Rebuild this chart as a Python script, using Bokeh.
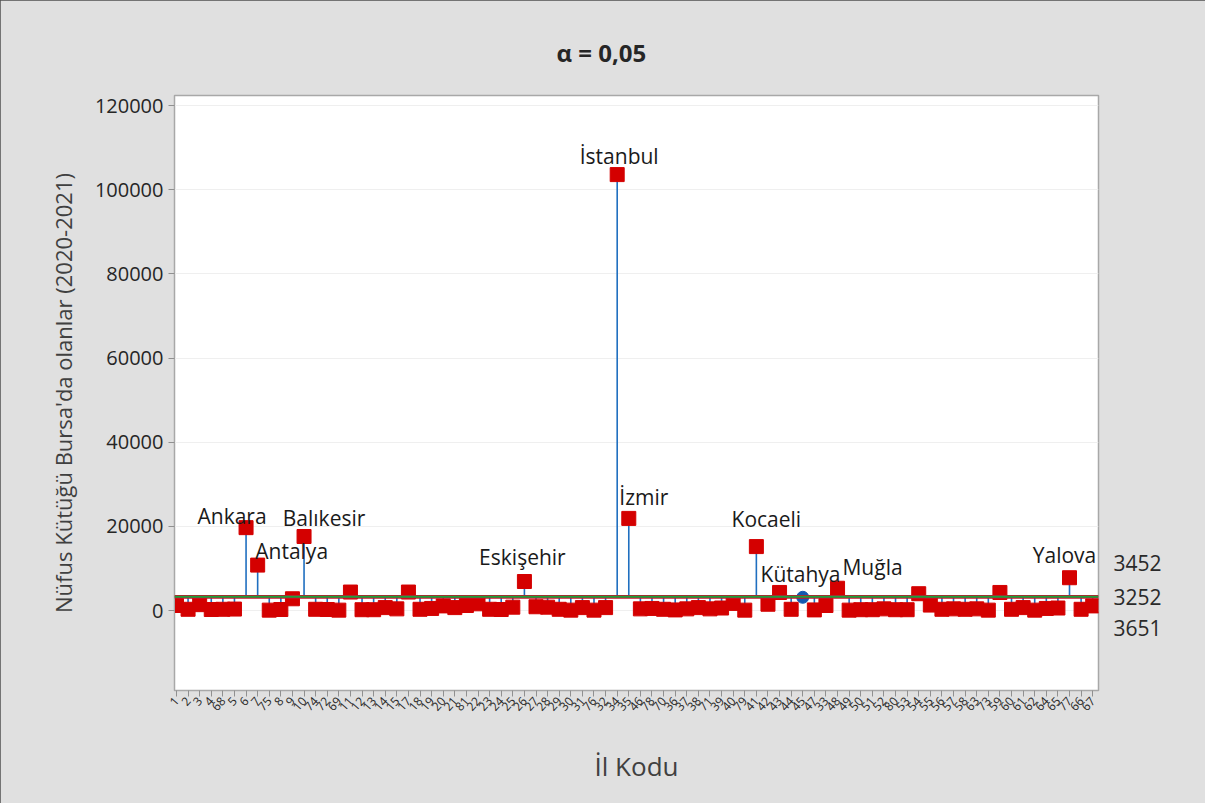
from bokeh.plotting import figure
from bokeh.models import (ColumnDataSource, Range1d, FixedTicker, Span, Label, Title,
                          LinearAxis, NumeralTickFormatter)
from bokeh.embed import file_html
from bokeh.resources import INLINE

# ---------------- data ----------------
provinces = ["Adana", "Adıyaman", "Afyonkarahisar", "Ağrı", "Aksaray", "Amasya", "Ankara", "Antalya",
             "Ardahan", "Artvin", "Aydın", "Balıkesir", "Bartın", "Batman", "Bayburt", "Bilecik",
             "Bingöl", "Bitlis", "Bolu", "Burdur", "Çanakkale", "Çankırı", "Çorum", "Denizli",
             "Diyarbakır", "Düzce", "Edirne", "Elazığ", "Erzincan", "Erzurum", "Eskişehir", "Gaziantep",
             "Giresun", "Gümüşhane", "Hakkari", "Hatay", "Iğdır", "Isparta", "İstanbul", "İzmir",
             "Kahramanmaraş", "Karabük", "Karaman", "Kars", "Kastamonu", "Kayseri", "Kırıkkale", "Kırklareli",
             "Kırşehir", "Kilis", "Kocaeli", "Konya", "Kütahya", "Malatya", "Manisa", "Mardin",
             "Mersin", "Muğla", "Muş", "Nevşehir", "Niğde", "Ordu", "Osmaniye", "Rize",
             "Sakarya", "Samsun", "Siirt", "Sinop", "Sivas", "Şanlıurfa", "Şırnak", "Tekirdağ",
             "Tokat", "Trabzon", "Tunceli", "Uşak", "Van", "Yalova", "Yozgat", "Zonguldak"]
il_kodu = [1, 2, 3, 4, 68, 5, 6, 7, 75, 8, 9, 10, 74, 72, 69, 11,
           12, 13, 14, 15, 17, 18, 19, 20, 21, 81, 22, 23, 24, 25, 26, 27,
           28, 29, 30, 31, 76, 32, 34, 35, 46, 78, 70, 36, 37, 38, 71, 39,
           40, 79, 41, 42, 43, 44, 45, 47, 33, 48, 49, 50, 51, 52, 80, 53,
           54, 55, 56, 57, 58, 63, 73, 59, 60, 61, 62, 64, 65, 77, 66, 67]
bursa_counts = [1200, 300, 1400, 250, 300, 350, 19700, 10800,
                100, 250, 2800, 17600, 300, 250, 100, 4400,
                200, 200, 700, 400, 4400, 300, 500, 1100,
                700, 1200, 1600, 300, 250, 800, 6900, 900,
                800, 300, 100, 700, 100, 700, 103600, 21900,
                400, 500, 300, 150, 400, 700, 400, 600,
                1700, 100, 15200, 1500, 4300, 300, 3150, 150,
                1200, 5300, 100, 200, 200, 400, 200, 200,
                4000, 1300, 300, 400, 300, 400, 100, 4300,
                300, 700, 100, 500, 600, 7800, 300, 1100]
center_line = 3252
upper_limit = 3452
lower_limit = 3051
limit_texts = ["3452", "3252", "3651"]
labelled = ["Ankara", "Antalya", "Balıkesir", "Eskişehir", "İstanbul", "İzmir",
            "Kocaeli", "Kütahya", "Muğla", "Yalova"]
y_ticks = [0, 20000, 40000, 60000, 80000, 100000, 120000]

FONT = "Open Sans"

W, H = 1205, 803
BL, BR, BT, BB = 174, 107, 95, 113
Y0, Y1 = -19000, 122400
units_per_px = (Y1 - Y0) / (H - BT - BB)

xs = list(range(len(provinces)))
outside = [v > upper_limit or v < lower_limit for v in bursa_counts]
src_out = ColumnDataSource(dict(x=[x for x, o in zip(xs, outside) if o],
                                y=[v for v, o in zip(bursa_counts, outside) if o]))
src_in = ColumnDataSource(dict(x=[x for x, o in zip(xs, outside) if not o],
                               y=[v for v, o in zip(bursa_counts, outside) if not o]))
src_stem = ColumnDataSource(dict(x=xs, y0=[center_line] * len(xs), y1=bursa_counts))

p = figure(width=W, height=H, output_backend="svg", toolbar_location=None,
           x_range=Range1d(-0.17, 79.5), y_range=Range1d(Y0, Y1),
           min_border_left=BL, min_border_right=BR, min_border_top=BT, min_border_bottom=BB)
p.styles = {"outline": "2px solid #505050", "outline-offset": "-2px"}

p.background_fill_color = "white"
p.border_fill_color = "#e0e0e0"
p.outline_line_color = "#a8a8a8"
p.outline_line_width = 1.5

# title
p.add_layout(Title(text="α = 0,05", align="left", offset=382, text_font=FONT,
                   text_font_size="24px", text_font_style="bold", text_color="#262626",
                   standoff=54), "above")

# limit lines
p.add_layout(Span(location=lower_limit, dimension="width", line_color="#c8102e", line_width=2))
p.add_layout(Span(location=upper_limit, dimension="width", line_color="#c8102e", line_width=2))
p.add_layout(Span(location=center_line, dimension="width", line_color="#1e9e3a", line_width=2))

# stems
p.segment(x0="x", y0="y0", x1="x", y1="y1", source=src_stem, line_color="#1f6fc0", line_width=1.6)

# points
p.scatter("x", "y", source=src_out, marker="square", size=14, fill_color="#d40000",
          line_color="#d40000")
p.scatter("x", "y", source=src_in, marker="circle", size=12, fill_color="#1458b0",
          line_color="#1458b0")

# name labels (pixel offsets relative to their point)
name_offsets = {"Ankara": (-14, 12), "Antalya": (34, 14), "Balıkesir": (20, 18),
                "Eskişehir": (-2, 25), "İstanbul": (2, 19), "İzmir": (15, 21),
                "Kocaeli": (10, 28), "Kütahya": (21, 18), "Muğla": (35, 21), "Yalova": (-5, 23)}
for nm in labelled:
    i = provinces.index(nm)
    dx, dy = name_offsets[nm]
    p.add_layout(Label(x=xs[i], y=bursa_counts[i], x_offset=dx, y_offset=dy, text=nm,
                       text_align="center", text_baseline="middle", text_font=FONT,
                       text_font_size="21px", text_color="#1a1a1a"))

# limit value labels on right (as a right-hand axis, spread apart by pixel offsets)
lim_px = [34, 0, -31]
lim_pos = [center_line + d * units_per_px for d in lim_px]
raxis = LinearAxis(ticker=FixedTicker(ticks=lim_pos),
                   major_label_overrides={pos: t for pos, t in zip(lim_pos, limit_texts)})
raxis.axis_line_color = None
raxis.major_tick_line_color = None
raxis.minor_tick_line_color = None
raxis.major_label_standoff = 9
raxis.major_label_text_font = FONT
raxis.major_label_text_font_size = "21px"
raxis.major_label_text_color = "#2a2a2a"
p.add_layout(raxis, "right")

# axes
yaxis = p.yaxis[0]
yaxis.ticker = FixedTicker(ticks=y_ticks)
yaxis.formatter = NumeralTickFormatter(format="0")
yaxis.axis_label = "Nüfus Kütüğü Bursa'da olanlar (2020-2021)"
yaxis.axis_label_text_font = FONT
yaxis.axis_label_text_font_size = "22px"
yaxis.axis_label_text_font_style = "normal"
yaxis.axis_label_text_color = "#404040"
yaxis.axis_label_standoff = 14
yaxis.major_label_text_font = FONT
yaxis.major_label_text_font_size = "20px"
yaxis.major_label_text_color = "#262626"
yaxis.minor_tick_line_color = None
yaxis.major_tick_out = 6
yaxis.major_tick_in = 0
yaxis.major_tick_line_color = "#909090"
yaxis.axis_line_color = "#a8a8a8"

p.xaxis.ticker = FixedTicker(ticks=xs)
p.xaxis.major_label_overrides = {x: str(c) for x, c in zip(xs, il_kodu)}
p.xaxis.major_label_orientation = 0.85
p.xaxis.major_label_text_font = FONT
p.xaxis.major_label_text_font_size = "12px"
p.xaxis.major_label_text_color = "#262626"
p.xaxis.major_label_standoff = 2
p.xaxis.axis_label = "İl Kodu"
p.xaxis.axis_label_text_font = FONT
p.xaxis.axis_label_text_font_size = "26px"
p.xaxis.axis_label_text_font_style = "normal"
p.xaxis.axis_label_text_color = "#404040"
p.xaxis.axis_label_standoff = 30
p.xaxis.minor_tick_line_color = None
p.xaxis.major_tick_out = 6
p.xaxis.major_tick_in = 0
p.xaxis.major_tick_line_color = "#909090"
p.xaxis.axis_line_color = "#a8a8a8"

p.xgrid.grid_line_color = None
p.ygrid.grid_line_color = "#efefef"
p.ygrid.grid_line_width = 1

open("out.html", "w").write(file_html(p, INLINE))
